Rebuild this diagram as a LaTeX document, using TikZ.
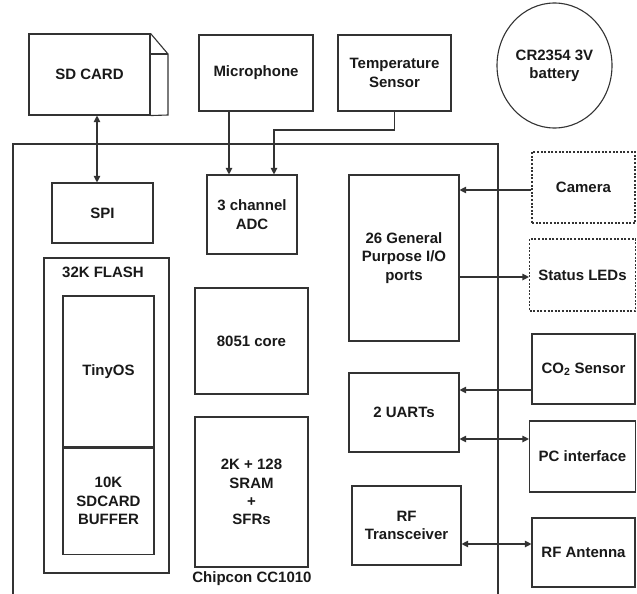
\documentclass[tikz,border=0pt]{standalone}
\usepackage{fontspec}
\setmainfont{Liberation Sans}
\usetikzlibrary{arrows.meta,shapes.geometric}
\begin{document}
\begin{tikzpicture}[x=1pt,y=-1pt,
  every node/.style={font=\bfseries\fontsize{15}{18.3}\selectfont, align=center, text=black!90},
  blk/.style={draw=black!80, line width=1.1pt, inner sep=0pt, rectangle},
  dblk/.style={blk, dash pattern=on 2pt off 1.6pt},
  lbl/.style={inner sep=0pt},
  wire/.style={draw=black!80, line width=1.1pt},
  tip/.style={-{Triangle[length=6.5pt,width=6.5pt]}},
  tips/.style={{Triangle[length=6.5pt,width=6.5pt]}-{Triangle[length=6.5pt,width=6.5pt]}}]
\useasboundingbox (0,0) rectangle (637,594);
\fill[white] (0,0) rectangle (637,594);
% chip outline
\draw[wire] (13,594) -- (13,144) -- (498,144) -- (498,594);
\node[lbl] (chip) at (252,579) {Chipcon CC1010};
% SD card
\node[blk, minimum width=121, minimum height=81] (sd) at (89.5,74.5) {SD CARD};
\draw[wire, line join=miter] (sd.north east) -- (168,54) -- (168,115) -- (sd.south east);
\draw[wire] (sd.north east |- 0,54) -- (168,54);
% top sensors
\node[blk, minimum width=114, minimum height=76] (mic) at (256,73) {Microphone};
\node[blk, minimum width=113, minimum height=76] (temp) at (394.5,73) {Temperature\\Sensor};
\node[draw=black!80, line width=1.1pt, ellipse, minimum width=115, minimum height=125, inner sep=0pt] (bat) at (554.5,65.5) {CR2354 3V\\battery};
% inner blocks
\node[blk, minimum width=101, minimum height=60] (spi) at (102.5,213) {SPI};
\node[blk, minimum width=90, minimum height=79] (adc) at (252,214.5) {3 channel\\ADC};
\node[blk, minimum width=125, minimum height=315] (flash) at (106.5,415.5) {};
\node[lbl] (flashlbl) at (103,272) {32K FLASH};
\node[blk, minimum width=91, minimum height=151] (tiny) at (108.5,371.5) {TinyOS};
\node[blk, minimum width=91, minimum height=106, anchor=north] (buf) at (tiny.south) {10K\\SDCARD\\BUFFER};
\node[blk, minimum width=113, minimum height=106] (core) at (251.5,341) {8051 core};
\node[blk, minimum width=113, minimum height=150] (sram) at (251.5,492) {2K + 128\\SRAM\\+\\SFRs};
\node[blk, minimum width=110, minimum height=166] (gpio) at (404,258) {26 General\\Purpose I/O\\ports};
\node[blk, minimum width=110, minimum height=79] (uart) at (404,412.5) {2 UARTs};
\node[blk, minimum width=109, minimum height=79] (rf) at (406.5,525.5) {RF\\Transceiver};
% right peripherals
\node[dblk, minimum width=103, minimum height=71] (cam) at (583.5,187.5) {Camera};
\node[dblk, minimum width=106, minimum height=72] (led) at (582.5,275) {Status LEDs};
\node[blk, minimum width=103, minimum height=70] (co2) at (583.5,369) {CO$_\mathbf{2}$ Sensor};
\node[blk, minimum width=106, minimum height=71] (pc) at (582.5,456.5) {PC interface};
\node[blk, minimum width=103, minimum height=69] (ant) at (583.5,552.5) {RF Antenna};
% connectors
\draw[wire, tips] (97,0 |- sd.south) -- (97,0 |- spi.north);
\draw[wire, tip] (229,0 |- mic.south) -- (229,0 |- adc.north);
\draw[wire, tip] (temp.south) |- (274,130) -- (274,0 |- adc.north);
\draw[wire, tip] (cam.west |- 0,190) -- (gpio.east |- 0,190);
\draw[wire, tip] (gpio.east |- 0,277) -- (led.west |- 0,277);
\draw[wire, tip] (co2.west |- 0,390) -- (uart.east |- 0,390);
\draw[wire, tips] (uart.east |- 0,439) -- (pc.west |- 0,439);
\draw[wire, tips] (rf.east |- 0,544) -- (ant.west |- 0,544);
\end{tikzpicture}
\end{document}
